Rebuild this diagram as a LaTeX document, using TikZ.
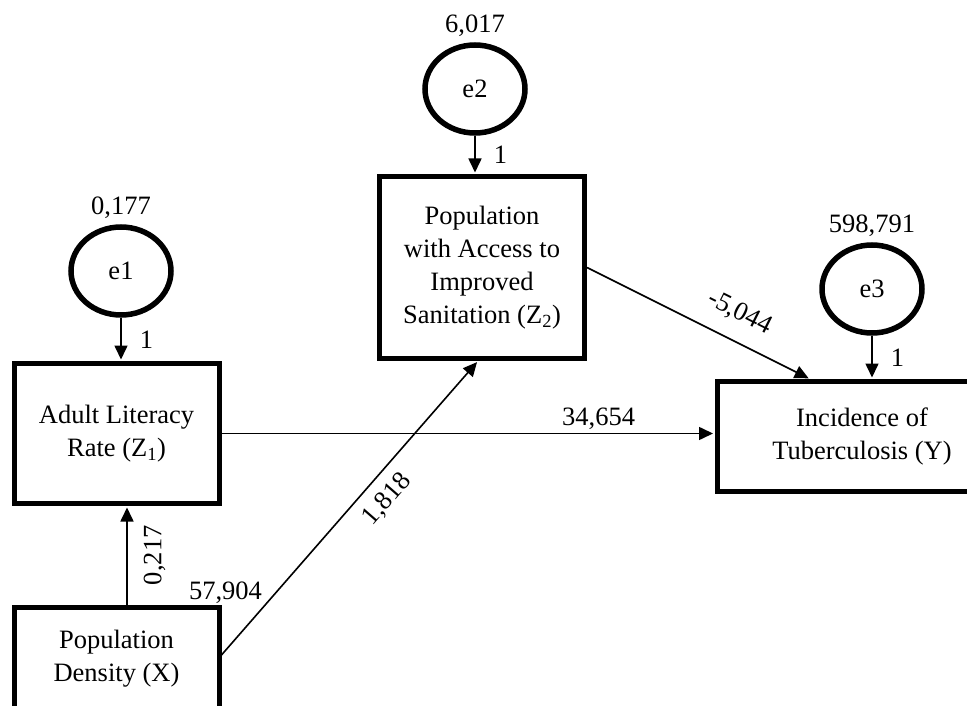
\documentclass[tikz,border=0pt]{standalone}
\usepackage{fontspec}
\setmainfont{Liberation Serif}
\usetikzlibrary{arrows.meta,positioning,shapes.geometric,calc}

\begin{document}
\begin{tikzpicture}[x=1pt,y=-1pt,font=\fontsize{26.5}{33}\selectfont,
  varbox/.style={draw,line width=5pt,align=center,minimum width=205pt,inner sep=0pt},
  errnode/.style={ellipse,draw,line width=5.5pt,minimum width=100pt,minimum height=88pt,inner sep=0pt},
  regarrow/.style={-{Triangle[length=14pt,width=13pt]},line width=1.6pt,shorten >=1.5pt},
  coef/.style={inner sep=0pt}]
  \useasboundingbox (0,0) rectangle (967,706);
  % observed variables
  \node[varbox,minimum height=140pt] (z1) at (116.5,433.5) {Adult Literacy\\Rate (Z\textsubscript{1})};
  \node[varbox,minimum height=104pt] (x) at (116.5,659) {Population\\Density (X)};
  \node[varbox,minimum height=182pt] (z2) at (482,267.5) {Population\\with Access to\\Improved\\Sanitation (Z\textsubscript{2})};
  \node[varbox,minimum width=290pt,minimum height=110pt] (y) at (862,436.5) {Incidence of\\Tuberculosis (Y)};
  % error terms and their variances
  \node[errnode] (e1) at (121,271) {e1};
  \node[errnode] (e2) at (475,89) {e2};
  \node[errnode] (e3) at (872,289) {e3};
  \node[coef,above=5pt of e1] (v1) {0,177};
  \node[coef,above=5pt of e2] (v2) {6,017};
  \node[coef,above=5pt of e3] (v3) {598,791};
  \node[coef,above=1pt of {[xshift=4pt]x.north east}] (vx) {57,904};
  \foreach \e/\v in {e1/z1,e2/z2,e3/y}{
    \draw[regarrow] (\e.south) -- (\e.south |- \v.north) node[coef,midway,right=18pt] {1};
  }
  % paths
  \draw[regarrow] ([xshift=10.5pt]x.north) -- ([xshift=10.5pt]z1.south)
    node[coef,midway,sloped,below=16pt] {0,217};
  \draw[regarrow] ([yshift=4pt]x.east) -- ([xshift=-4pt]z2.south)
    node[coef,pos=0.58,sloped,below=11pt] {1,818};
  \draw[regarrow] (z1.east) -- (z1.east -| y.west)
    node[coef,pos=0.765,above=3pt] {34,654};
  \draw[regarrow] (z2.east) -- ([xshift=-52pt]y.north)
    node[coef,pos=0.63,sloped,above=16pt] {-5,044};
\end{tikzpicture}
\end{document}
